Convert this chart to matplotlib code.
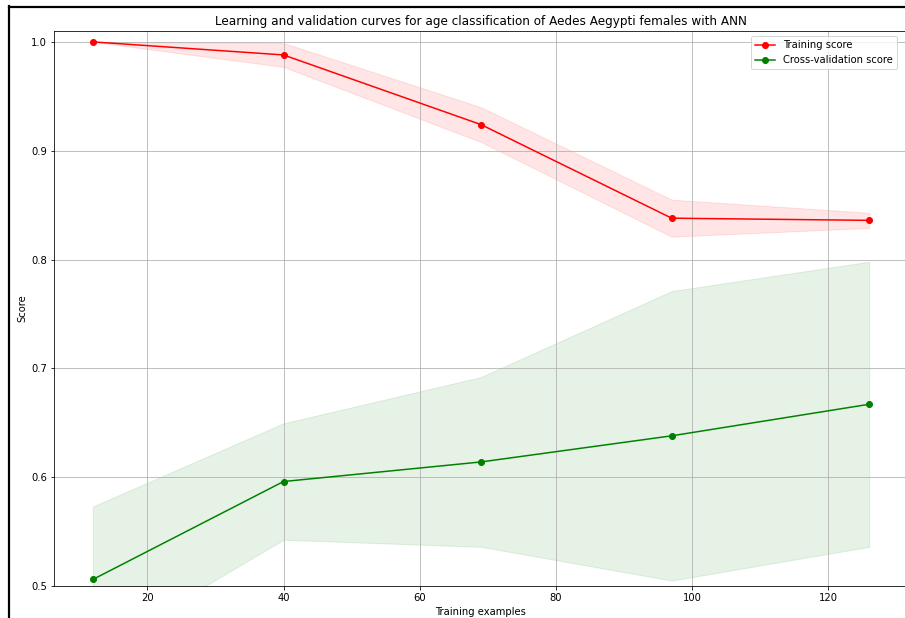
"""
Learning curve for the ANN age classifier: mean training and
cross-validation score against training-set size, with +/- 1 std bands.
"""
import numpy as np
import matplotlib
matplotlib.use("Agg")
import matplotlib.pyplot as plt  # noqa: E402
from matplotlib.lines import Line2D  # noqa: E402

train_sizes = np.array([12, 40, 69, 97, 126])

train_scores_mean = np.array([1.000, 0.988, 0.924, 0.838, 0.836])
train_scores_std = np.array([0.000, 0.011, 0.016, 0.017, 0.007])

test_scores_mean = np.array([0.506, 0.596, 0.614, 0.638, 0.667])
test_scores_std = np.array([0.067, 0.0535, 0.078, 0.133, 0.131])

TITLE = "Learning and validation curves for age classification of Aedes Aegypti females with ANN"


def plot_learning_curve(out_path):
    dpi = 72
    fig = plt.figure(figsize=(905 / dpi, 618 / dpi), dpi=dpi)
    W, H = 905.0, 618.0
    # right edge sits just past the canvas, so the right spine is cut off
    ax = fig.add_axes([54 / W, (H - 586) / H, (908 - 54) / W, (586 - 31) / H])

    ax.set_title(TITLE)
    ax.set_xlabel("Training examples")
    ax.set_ylabel("Score")
    ax.grid()

    ax.fill_between(train_sizes, train_scores_mean - train_scores_std,
                    train_scores_mean + train_scores_std, alpha=0.1, color="r")
    ax.fill_between(train_sizes, test_scores_mean - test_scores_std,
                    test_scores_mean + test_scores_std, alpha=0.1, color="g")
    ax.plot(train_sizes, train_scores_mean, "o-", color="r", label="Training score")
    ax.plot(train_sizes, test_scores_mean, "o-", color="g", label="Cross-validation score")

    ax.set_ylim(0.5, 1.01)
    ax.legend(loc="upper right", bbox_to_anchor=(902 / W, 1 - 31 / H),
              bbox_transform=fig.transFigure)

    # notebook output frame (left and top edges)
    fig.add_artist(Line2D([8.5 / W, 8.5 / W], [0, 1 - 6 / H], color="black", lw=2.2))
    fig.add_artist(Line2D([8.5 / W, 1], [1 - 7 / H, 1 - 7 / H], color="black", lw=2.2))

    fig.savefig(out_path, dpi=dpi)
    print(f"saved {out_path}")


if __name__ == "__main__":
    plot_learning_curve("out.png")
